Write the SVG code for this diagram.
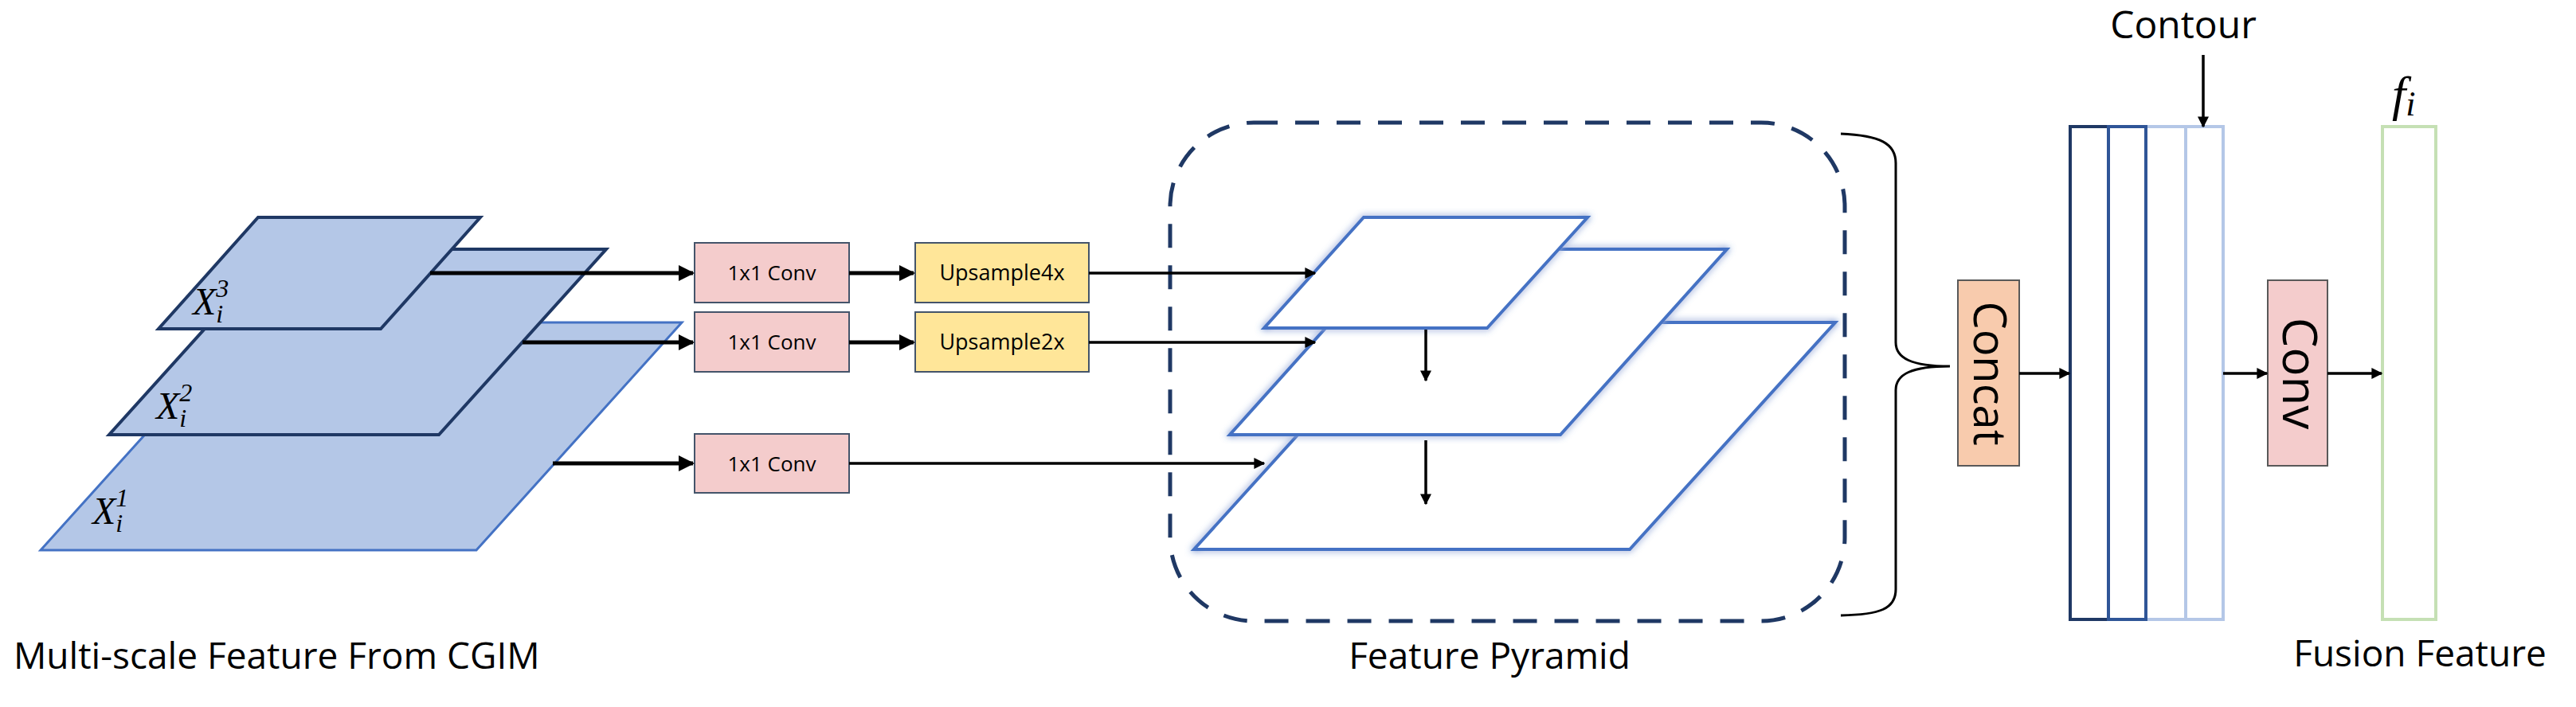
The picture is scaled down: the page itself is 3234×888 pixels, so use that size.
<svg xmlns="http://www.w3.org/2000/svg" width="3234" height="888" viewBox="0 0 3234 888">
<defs>
<marker id="ah" viewBox="0 0 10 10" refX="9" refY="5" markerWidth="4" markerHeight="4" orient="auto" markerUnits="strokeWidth"><path d="M0,0 L10,5 L0,10 z" fill="#000"/></marker>
<filter id="glow" x="-10%" y="-10%" width="120%" height="120%"><feGaussianBlur in="SourceGraphic" stdDeviation="4" result="b"/><feMerge><feMergeNode in="b"/><feMergeNode in="SourceGraphic"/></feMerge></filter>
<style>
.ln{stroke:#000;stroke-width:5;fill:none}
.ln3{stroke:#000;stroke-width:3.5;fill:none}
.fm{fill:#B4C7E7;stroke:#1F3864;stroke-width:4}
.fm1{fill:#B4C7E7;stroke:#4472C4;stroke-width:3}
.pp{fill:#fff;stroke:#4472C4;stroke-width:4}
.conv{fill:#F4CCCC;stroke:#44546A;stroke-width:2}
.up{fill:#FFE699;stroke:#44546A;stroke-width:2}
.t{font-family:"Open Sans","Liberation Sans",sans-serif;fill:#000}
.m{font-family:"Liberation Serif",serif;font-style:italic;fill:#000}
</style>
</defs>
<g id="feature-maps">
<polygon class="fm1" points="309,405 856,405 598,691 51,691"/>
<polygon class="fm" points="347,313 761,313 551,546 137,546"/>
<polygon class="fm" points="324,273 603,273 478,413 199,413"/>
<text class="m" x="242" y="395" font-size="48">X<tspan font-size="32" dy="-22">3</tspan><tspan font-size="32" dx="-16" dy="32">i</tspan></text>
<text class="m" x="196" y="526" font-size="48">X<tspan font-size="32" dy="-22">2</tspan><tspan font-size="32" dx="-16" dy="32">i</tspan></text>
<text class="m" x="116" y="658" font-size="48">X<tspan font-size="32" dy="-22">1</tspan><tspan font-size="32" dx="-16" dy="32">i</tspan></text>
</g>
<g id="conv1"><rect class="conv" x="872" y="305" width="194" height="75"/><text class="t" x="969" y="352" font-size="26" text-anchor="middle">1x1 Conv</text></g>
<g id="conv2"><rect class="conv" x="872" y="392" width="194" height="75"/><text class="t" x="969" y="439" font-size="26" text-anchor="middle">1x1 Conv</text></g>
<g id="conv3"><rect class="conv" x="872" y="545" width="194" height="74"/><text class="t" x="969" y="592" font-size="26" text-anchor="middle">1x1 Conv</text></g>
<g id="up4"><rect class="up" x="1149" y="305" width="218" height="75"/><text class="t" x="1258" y="352" font-size="27" text-anchor="middle">Upsample4x</text></g>
<g id="up2"><rect class="up" x="1149" y="392" width="218" height="75"/><text class="t" x="1258" y="439" font-size="27" text-anchor="middle">Upsample2x</text></g>
<g id="pyramid">
<rect x="1469" y="154" width="847" height="626" rx="105" ry="105" fill="none" stroke="#1F3864" stroke-width="5" stroke-dasharray="30,22"/>
<polygon class="pp" filter="url(#glow)" points="1757,405 2304,405 2046,690 1499,690"/>
<polygon class="pp" filter="url(#glow)" points="1753,313 2168,313 1959,546 1544,546"/>
<polygon class="pp" filter="url(#glow)" points="1712,273 1993,273 1867,412 1587,412"/>
</g>
<g id="concat"><rect x="2458" y="352" width="77" height="233" fill="#F8CBAD" stroke="#595959" stroke-width="2"/><text class="t" transform="translate(2478,469) rotate(90)" font-size="56" text-anchor="middle">Concat</text></g>
<g id="stack">
<rect x="2694" y="159" width="50" height="619" fill="#fff" stroke="#B4C7E7" stroke-width="4"/>
<rect x="2744" y="159" width="47" height="619" fill="#fff" stroke="#B4C7E7" stroke-width="4"/>
<rect x="2599" y="159" width="48" height="619" fill="#fff" stroke="#1F3864" stroke-width="4"/>
<rect x="2647" y="159" width="47" height="619" fill="#fff" stroke="#2F5597" stroke-width="4"/>
</g>
<g id="conv"><rect x="2847" y="352" width="75" height="233" fill="#F4CCCC" stroke="#595959" stroke-width="2"/><text class="t" transform="translate(2866,469) rotate(90)" font-size="60" text-anchor="middle">Conv</text></g>
<g id="fusion"><rect x="2991" y="159" width="67" height="619" fill="#fff" stroke="#C5E0B4" stroke-width="4"/>
<text class="m" x="3003" y="139" font-size="62">f<tspan font-size="44" dy="6">i</tspan></text></g>
<g id="connectors">
<line class="ln" x1="540" y1="343" x2="870" y2="343" marker-end="url(#ah)"/>
<line class="ln" x1="656" y1="430" x2="870" y2="430" marker-end="url(#ah)"/>
<line class="ln" x1="694" y1="582" x2="870" y2="582" marker-end="url(#ah)"/>
<line class="ln" x1="1066" y1="343" x2="1147" y2="343" marker-end="url(#ah)"/>
<line class="ln" x1="1066" y1="430" x2="1147" y2="430" marker-end="url(#ah)"/>
<line class="ln3" x1="1367" y1="343" x2="1651" y2="343" marker-end="url(#ah)"/>
<line class="ln3" x1="1367" y1="430" x2="1651" y2="430" marker-end="url(#ah)"/>
<line class="ln3" x1="1066" y1="582" x2="1587" y2="582" marker-end="url(#ah)"/>
<line class="ln3" x1="1790" y1="414" x2="1790" y2="478" marker-end="url(#ah)"/>
<line class="ln3" x1="1790" y1="553" x2="1790" y2="633" marker-end="url(#ah)"/>
<path d="M2311,168 C2360,170 2380,180 2380,205 L2380,430 C2380,450 2400,460 2448,460 C2400,460 2380,470 2380,490 L2380,740 C2380,765 2360,772 2311,773" fill="none" stroke="#000" stroke-width="3"/>
<line class="ln3" x1="2535" y1="469" x2="2598" y2="469" marker-end="url(#ah)"/>
<line class="ln3" x1="2766" y1="69" x2="2766" y2="159" marker-end="url(#ah)"/>
<line class="ln3" x1="2791" y1="469" x2="2846" y2="469" marker-end="url(#ah)"/>
<line class="ln3" x1="2922" y1="469" x2="2990" y2="469" marker-end="url(#ah)"/>
</g>
<text class="t" x="2741" y="48" font-size="48" text-anchor="middle">Contour</text>
<text class="t" x="17" y="840" font-size="46">Multi-scale Feature From CGIM</text>
<text class="t" x="1870" y="840" font-size="46" text-anchor="middle">Feature Pyramid</text>
<text class="t" x="3038" y="837" font-size="46" text-anchor="middle">Fusion Feature</text>
</svg>
